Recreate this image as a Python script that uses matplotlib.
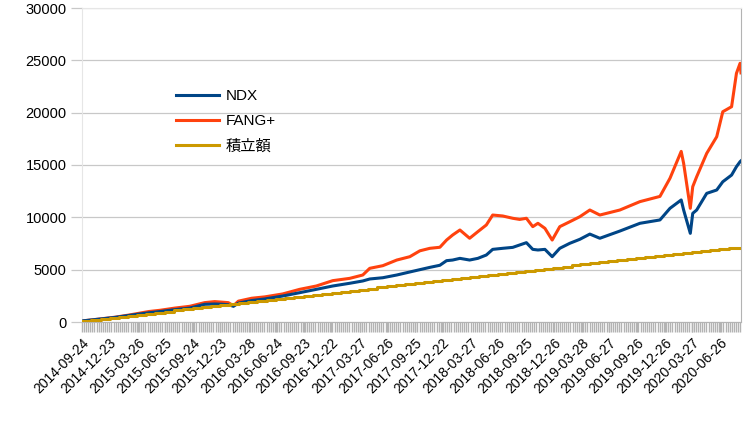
import pandas as pd
import matplotlib.pyplot as plt
import matplotlib.dates as mdates

plt.rcParams['font.family'] = ['Liberation Sans', 'Noto Sans CJK JP']

# NDX / FANG+ valuation
dates = ['2014-09-24', '2014-11-22', '2015-01-11', '2015-03-01', '2015-05-02',
         '2015-06-08', '2015-07-27', '2015-09-14', '2015-11-02', '2015-12-05',
         '2015-12-28', '2016-01-19', '2016-02-05', '2016-02-21', '2016-04-05',
         '2016-05-18', '2016-07-16', '2016-09-10', '2016-11-04', '2016-12-28',
         '2017-02-22', '2017-04-06', '2017-04-29', '2017-06-11', '2017-07-27',
         '2017-09-08', '2017-10-11', '2017-11-13', '2017-12-16', '2018-01-07',
         '2018-01-27', '2018-02-20', '2018-03-24', '2018-04-20', '2018-05-18',
         '2018-06-08', '2018-07-11', '2018-08-13', '2018-09-05', '2018-09-27',
         '2018-10-18', '2018-11-04', '2018-11-27', '2018-12-21', '2019-01-15',
         '2019-02-17', '2019-03-22', '2019-04-24', '2019-05-27', '2019-08-01',
         '2019-10-06', '2019-12-11', '2020-01-13', '2020-02-19', '2020-02-27',
         '2020-03-20', '2020-03-28', '2020-04-10', '2020-05-13', '2020-06-15',
         '2020-07-05', '2020-08-03', '2020-08-19', '2020-08-31', '2020-09-03']

ndx = [100, 280, 440, 640, 880,
       1000, 1180, 1330, 1690, 1720,
       1700, 1650, 1500, 1800, 2050,
       2200, 2480, 2800, 3120, 3440,
       3700, 3920, 4110, 4230, 4490,
       4780, 5000, 5220, 5420, 5860,
       5920, 6080, 5920, 6080, 6400,
       6940, 7040, 7130, 7360, 7580,
       6940, 6880, 6940, 6240, 7040,
       7520, 7900, 8400, 8000, 8690,
       9430, 9750, 10860, 11660, 10700,
       8470, 10380, 10700, 12290, 12610,
       13400, 14040, 14840, 15320, 15400]

fang = [100, 290, 460, 680, 1000,
        1120, 1330, 1500, 1850, 1950,
        1900, 1850, 1550, 1990, 2270,
        2400, 2680, 3120, 3440, 3950,
        4170, 4490, 5130, 5380, 5920,
        6240, 6800, 7040, 7140, 7830,
        8310, 8790, 8000, 8630, 9270,
        10220, 10130, 9910, 9800, 9910,
        9110, 9430, 8950, 7830, 9110,
        9580, 10060, 10700, 10220, 10700,
        11500, 12000, 13730, 16300, 15160,
        10860, 12930, 13880, 16110, 17700,
        20090, 20570, 23760, 24720, 23800]

# cumulative contribution, monthly
contrib = [100, 200, 300, 400, 500, 600, 700, 800, 900, 1000,
           1100, 1200, 1300, 1400, 1500, 1600, 1700, 1800, 1900, 2000,
           2100, 2200, 2300, 2400, 2500, 2600, 2700, 2800, 2900, 3000,
           3100, 3200, 3300, 3400, 3500, 3600, 3700, 3800, 3900, 4000,
           4100, 4200, 4300, 4400, 4500, 4600, 4700, 4800, 4900, 5000,
           5100, 5200, 5300, 5400, 5500, 5600, 5700, 5800, 5900, 6000,
           6100, 6200, 6300, 6400, 6500, 6600, 6700, 6800, 6900, 7000,
           7100]

tick_labels = ['2014-09-24', '2014-12-23', '2015-03-26', '2015-06-25', '2015-09-24',
               '2015-12-23', '2016-03-28', '2016-06-24', '2016-09-23', '2016-12-22',
               '2017-03-27', '2017-06-26', '2017-09-25', '2017-12-22', '2018-03-27',
               '2018-06-26', '2018-09-25', '2018-12-26', '2019-03-28', '2019-06-27',
               '2019-09-26', '2019-12-26', '2020-03-27', '2020-06-26']

x = pd.to_datetime(dates)
start, end = x[0], x[-1]
cdates = list(pd.date_range(start, periods=len(contrib), freq=pd.DateOffset(months=1)))
cdates.append(end)
cvals = contrib + [contrib[-1]]

fig = plt.figure(figsize=(7.56, 4.25), dpi=100)
ax = fig.add_axes([82 / 756, 103 / 425, 659 / 756, 314 / 425])

ax.plot(x, ndx, color='#004586', lw=2.2, label='NDX', zorder=3)
ax.plot(x, fang, color='#ff420e', lw=2.2, label='FANG+', zorder=2)
ax.plot(cdates, cvals, color='#cc9900', lw=2.2, drawstyle='steps-post', label='積立額', zorder=4)

ax.set_xlim(start, end)
ax.set_ylim(0, 30000)
ax.set_yticks(range(0, 30001, 5000))
ax.grid(axis='y', color='#c8c8c8', lw=0.9)
ax.set_axisbelow(True)

ax.set_xticks(pd.to_datetime(tick_labels))
ax.set_xticklabels(tick_labels, rotation=45, ha='right', rotation_mode='anchor', fontsize=10)
ax.xaxis.set_minor_locator(mdates.DayLocator(interval=7))
ax.tick_params(axis='x', which='both', length=7, width=1, color='#b3b3b3', pad=3)
ax.tick_params(axis='y', length=8, width=0.9, color='#c8c8c8', labelsize=10.5, pad=3)

for side in ['top', 'left']:
    ax.spines[side].set_color('#e6e6e6')
for side in ['right', 'bottom']:
    ax.spines[side].set_color('#b3b3b3')

ax.legend(loc='upper left', bbox_to_anchor=(0.134, 0.76), frameon=False, fontsize=11,
          handlelength=2.8, handletextpad=0.4, labelspacing=0.72, borderaxespad=0)

fig.savefig('out.png', dpi=100)
